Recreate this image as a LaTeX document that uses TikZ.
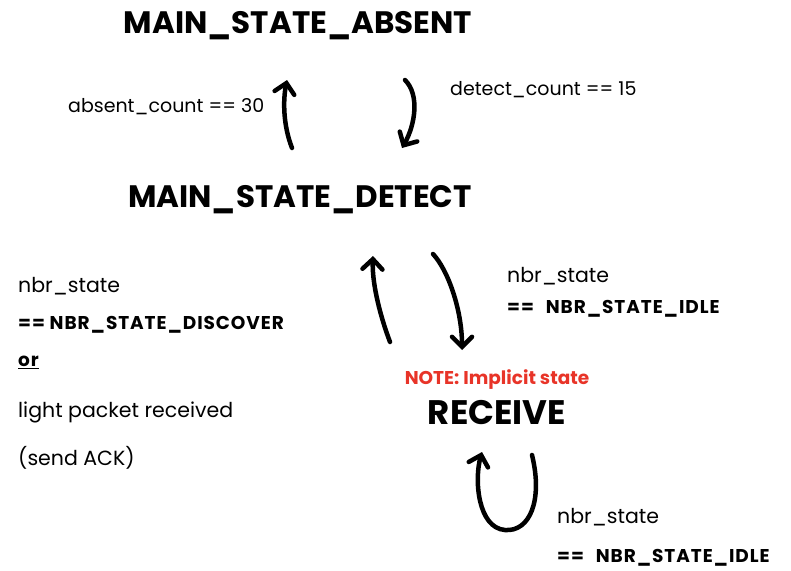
\documentclass[tikz,border=0pt]{standalone}
\usepackage{fontspec}
\setmainfont{Poppins}
\usetikzlibrary{arrows.meta,calc}
\definecolor{notered}{RGB}{232,52,40}
\begin{document}
\begin{tikzpicture}[x=1pt,y=-1pt,
 state/.style={font=\fontsize{31}{31}\selectfont\bfseries, inner sep=0pt},
 lbl/.style={font=\fontsize{20.5}{20.5}\selectfont, inner sep=0pt, anchor=west},
 smlbl/.style={font=\fontsize{19}{19}\selectfont, inner sep=0pt, anchor=west},
 caplbl/.style={font=\fontsize{18.5}{18.5}\selectfont\bfseries\addfontfeature{LetterSpace=5}, inner sep=0pt, anchor=west},
 note/.style={font=\fontsize{18.5}{18.5}\selectfont\bfseries, text=notered, inner sep=0pt},
 arr/.style={line width=4.5pt, line cap=round, -{Straight Barb[length=10pt,width=20pt,line cap=round]}}]
\useasboundingbox (0,0) rectangle (791,570);
\node[state] (absent) at (298,26) {MAIN\_STATE\_ABSENT};
\node[state] (detect) at (300,200) {MAIN\_STATE\_DETECT};
\node[state, font=\fontsize{34}{34}\selectfont\bfseries] (receive) at (497,413) {RECEIVE};
\node[note] (note) at (497,380) {NOTE: Implicit state};

\node[smlbl] (l1) at (68,107) {absent\_count == 30};
\node[smlbl] (l2) at (450,90) {detect\_count == 15};
\node[lbl] (l3a) at (507,276) {nbr\_state};
\node[caplbl] (l3b) at (507,309) {==\hspace{12pt}NBR\_STATE\_IDLE};
\node[lbl] (l4a) at (18,286) {nbr\_state};
\node[caplbl] (l4b) at (18,325) {== NBR\_STATE\_DISCOVER};
\node[caplbl] (l4c) at (18,362) {\underline{or}};
\node[lbl] (l4d) at (18,412) {light packet received};
\node[lbl] (l4e) at (18,458) {(send ACK)};
\node[lbl] (l5a) at (557,517) {nbr\_state};
\node[caplbl] (l5b) at (557,558) {==\hspace{12pt}NBR\_STATE\_IDLE};

\draw[arr] ($(detect.center)+(-8,-52)$) .. controls (283,125) and (283,100) .. ($(absent.center)+(-11,54)$);
\draw[arr] ($(absent.center)+(107,54)$) .. controls (420,95) and (415,125) .. ($(detect.center)+(102,-52)$);
\draw[arr] ($(detect.center)+(133,54)$) .. controls (448,270) and (462,310) .. ($(receive.center)+(-35,-63)$);
\draw[arr] ($(receive.center)+(-107,-71)$) .. controls (378,310) and (372,280) .. ($(detect.center)+(73,56)$);
\draw[arr] ($(receive.center)+(35,42)$) .. controls (543,500) and (530,532) .. (505,530) .. controls (478,528) and (474,480) .. ($(receive.center)+(-15,39)$);
\end{tikzpicture}
\end{document}
